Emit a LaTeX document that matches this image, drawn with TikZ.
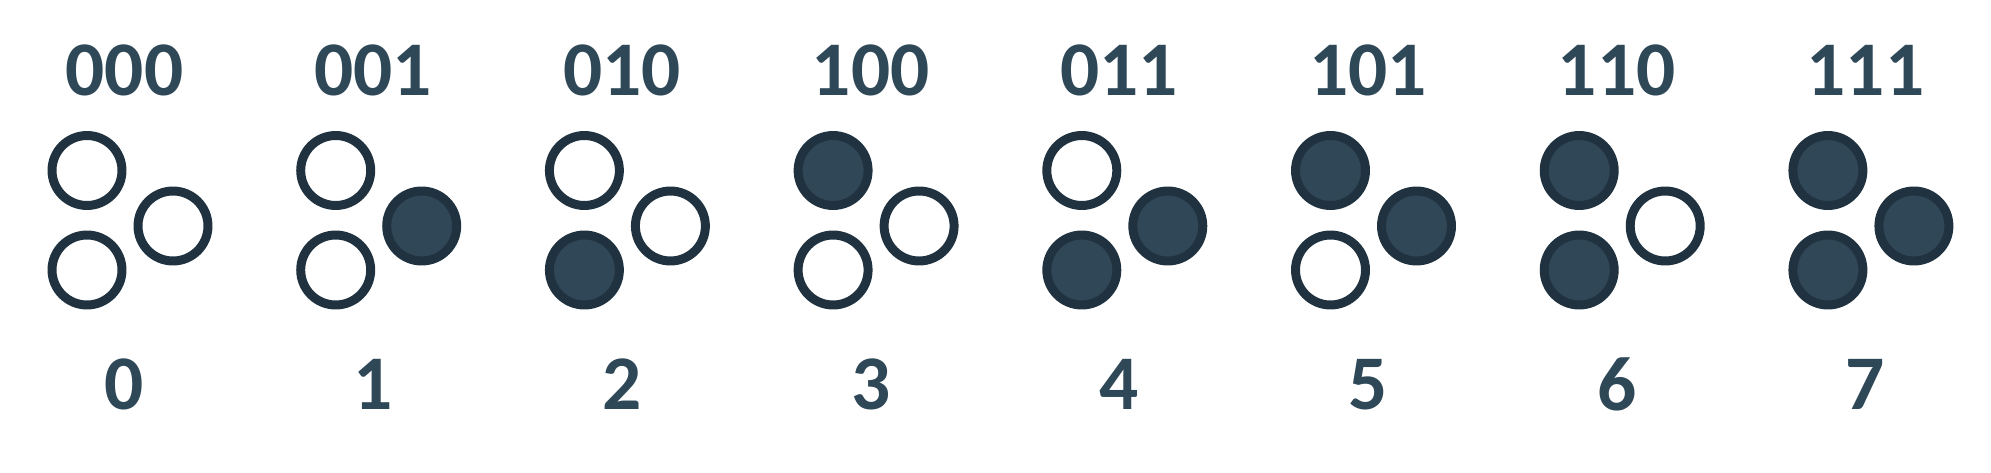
\documentclass[tikz,border=0pt]{standalone}
\usepackage{fontspec}
\setmainfont{Carlito}
\usetikzlibrary{positioning}
\definecolor{slate}{HTML}{2F4858}
\definecolor{rim}{HTML}{20323F}
\definecolor{ballfill}{HTML}{2F4757}
\begin{document}
\begin{tikzpicture}[x=0.02cm,y=-0.02cm,
  ball/.style={circle,draw=rim,line width=5.1pt,inner sep=0pt,minimum size=1.4cm},
  bit0/.style={fill=white},
  bit1/.style={fill=ballfill},
  digits/.style={text=slate,font=\fontsize{44}{44}\selectfont\bfseries,inner sep=0pt}]
   \useasboundingbox (0,0) rectangle (1991,473);
   \foreach \a/\b/\c [count=\i from 0] in {0/0/0,0/0/1,0/1/0,1/0/0,0/1/1,1/0/1,1/1/0,1/1/1} {
      \pgfmathsetmacro{\gx}{87+248.7*\i}
      \node[ball,bit\a] (tl\i) at (\gx,170.5) {};
      \node[ball,bit\b] (bl\i) at (\gx,270) {};
      \node[ball,bit\c] (r\i)  at (\gx+86,226) {};
      \node[digits] (code\i) at (\gx+37.5,70) {\a\b\c};
      \node[digits] (num\i)  at (\gx+37.5,384.5) {\i};
   }
\end{tikzpicture}
\end{document}
